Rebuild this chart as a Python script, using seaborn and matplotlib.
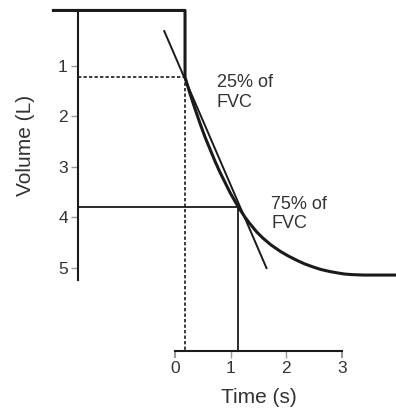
import matplotlib
matplotlib.use("Agg")
import matplotlib.pyplot as plt
import seaborn as sns
import pandas as pd

# Forced expiration: volume (L) against time (s)
time_s = [-2.21, 0.18, 0.18, 0.27, 0.36, 0.45, 0.54, 0.63, 0.72, 0.81,
          0.90, 0.99, 1.13, 1.26, 1.35, 1.47, 1.58, 1.72, 1.89, 2.03,
          2.19, 2.33, 2.48, 2.62, 2.78, 2.93, 3.05, 3.16, 3.27, 3.40,
          3.97]
volume_l = [-0.1, -0.1, 1.22, 1.55, 1.85, 2.14, 2.41, 2.65, 2.89, 3.11,
            3.31, 3.51, 3.78, 4.00, 4.13, 4.29, 4.41, 4.54, 4.67, 4.76,
            4.85, 4.92, 4.98, 5.03, 5.07, 5.10, 5.12, 5.13, 5.135, 5.14,
            5.14]

# Points at 25% and 75% of FVC
t25, v25 = 0.18, 1.22
t75, v75 = 1.13, 3.79

# Straight line drawn through the two points
tangent_t = [-0.20, 1.65]
tangent_v = [0.29, 5.02]

x_ticks = [0, 1, 2, 3]
y_ticks = [1, 2, 3, 4, 5]
label_25 = "25% of\nFVC"
label_75 = "75% of\nFVC"

sns.set_theme(style="white")
plt.rcParams["font.family"] = ["Liberation Sans", "DejaVu Sans"]

ink = "#1a1a1a"
text_col = "#333333"

fig = plt.figure(figsize=(3.96, 4.11), dpi=100)
ax = fig.add_axes([0, 0, 1, 1])
ax.set_xlim(-3.142, 3.968)
ax.set_ylim(7.832, -0.307)

y_axis_t = -1.75   # where the volume axis stands
x_axis_v = 6.64    # where the time axis lies

curve = pd.DataFrame({"time": time_s, "volume": volume_l})
sns.lineplot(data=curve, x="time", y="volume", sort=False, estimator=None,
             color=ink, linewidth=2.2, ax=ax)
sns.lineplot(x=tangent_t, y=tangent_v, sort=False, estimator=None,
             color=ink, linewidth=1.4, ax=ax)
for line in ax.lines:
    line.set_solid_joinstyle("round")
    line.set_solid_capstyle("butt")

# Guide lines to the axes
ax.plot([y_axis_t, t25], [v25, v25], color=ink, lw=1.2, ls=(0, (2, 1.3)))
ax.plot([t25, t25], [v25, x_axis_v], color=ink, lw=1.2, ls=(0, (2, 1.3)))
ax.plot([y_axis_t, t75], [v75, v75], color=ink, lw=1.3)
ax.plot([t75, t75], [v75, x_axis_v], color=ink, lw=1.3)

# Axes lines
for side in ["top", "right"]:
    ax.spines[side].set_visible(False)
ax.spines["left"].set_position(("data", y_axis_t))
ax.spines["left"].set_bounds(-0.1, 5.24)
ax.spines["bottom"].set_position(("data", x_axis_v))
ax.spines["bottom"].set_bounds(0, 3)
for side in ["left", "bottom"]:
    ax.spines[side].set_color(ink)
    ax.spines[side].set_linewidth(1.5)

ax.set_xlabel("")
ax.set_ylabel("")
ax.set_xticks(x_ticks)
ax.set_yticks(y_ticks)
ax.tick_params(axis="both", direction="out", length=5, width=1,
               color="#9a9a9a", labelcolor=text_col, labelsize=12.5, pad=2,
               bottom=True, left=True)
xt = ax.xaxis.get_major_ticks()
for i in (0, -1):
    xt[i].tick1line.set_color(ink)
    xt[i].tick1line.set_markeredgewidth(1.5)

ax.text(-2.69, 2.57, "Volume (L)", rotation=90, ha="center", va="center",
        fontsize=15, color=text_col)
ax.text(1.5, 7.57, "Time (s)", ha="center", va="center",
        fontsize=15, color=text_col)

ax.text(0.75, 1.52, label_25, ha="left", va="center", fontsize=13,
        color=text_col, linespacing=1.2)
ax.text(1.73, 3.93, label_75, ha="left", va="center", fontsize=13,
        color=text_col, linespacing=1.2)

fig.savefig("out.png", dpi=100)
